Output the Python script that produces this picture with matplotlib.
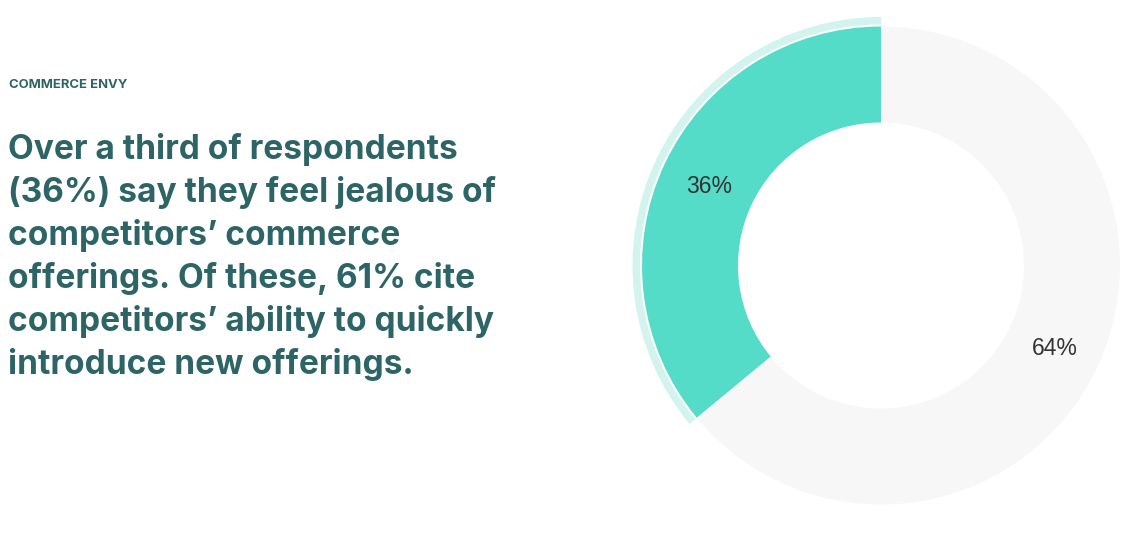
import matplotlib
matplotlib.use("Agg")
import matplotlib.pyplot as plt
import numpy as np

# Data
categories = ["Jealous of competitors", "Not jealous"]
values = [36, 64]
labels = ["36%", "64%"]
colors = ["#55dcc9", "#f7f7f7"]
halo_color = "#d2f3ee"

kicker = "COMMERCE ENVY"
headline = [
    "Over a third of respondents",
    "(36%) say they feel jealous of",
    "competitors\u2019 commerce",
    "offerings. Of these, 61% cite",
    "competitors\u2019 ability to quickly",
    "introduce new offerings.",
]

W, H = 1136, 533
fig = plt.figure(figsize=(W / 100, H / 100), dpi=100)
ax = fig.add_axes([0, 0, 1, 1])

cx, cy = 881, H - 265.5
R = 239
ring = 96

wedges, texts = ax.pie(
    values, colors=colors, startangle=90, counterclock=True,
    radius=R, center=(cx, cy), frame=True,
    wedgeprops=dict(width=ring, linewidth=0),
)
# halo on the highlighted slice
ax.pie(
    values, colors=[halo_color, "none"], startangle=90, counterclock=True,
    radius=R + 9.5, center=(cx, cy), frame=True,
    wedgeprops=dict(width=7.5, linewidth=0),
)
ax.set_xlim(0, W)
ax.set_ylim(0, H)
ax.set_aspect("equal")
ax.axis("off")

start = 90.0
total = sum(values)
rmid = R - ring / 2
for v, lab in zip(values, labels):
    ang = start + 360 * v / total / 2
    x = cx + rmid * np.cos(np.radians(ang))
    y = cy + rmid * np.sin(np.radians(ang))
    ax.text(x + 1, y - 2, lab, ha="center", va="center", fontsize=16.5,
            family="Liberation Sans", color="#333333")
    start += 360 * v / total

tc = "#2d6466"
ax.text(9, H - 85, kicker, ha="left", va="center", fontsize=9.4,
        family="Inter", weight="bold", color=tc)
for i, line in enumerate(headline):
    ax.text(8, H - (159 + 43 * i), line, ha="left", va="baseline",
            fontsize=24.1, family="Inter", weight="bold", color=tc)

fig.savefig("out.png", dpi=100, facecolor="white")
